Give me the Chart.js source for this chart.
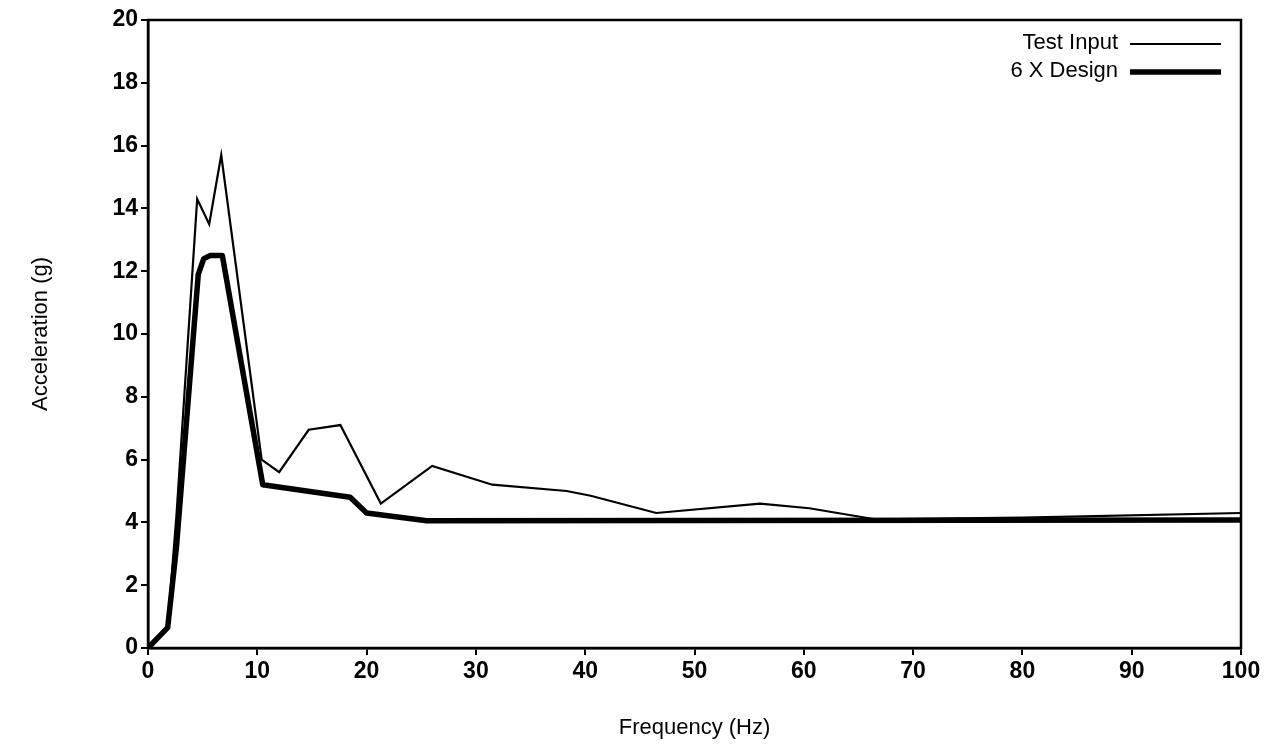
<!DOCTYPE html>
<html>
<head>
<meta charset="utf-8">
<script src="https://cdn.jsdelivr.net/npm/chart.js@4.4.1/dist/chart.umd.min.js"></script>
<style>
  html, body { margin: 0; padding: 0; background: #fff; }
  #wrap { width: 1271px; height: 747px; }
</style>
</head>
<body>
<div id="wrap"><canvas id="accelChart" width="1271" height="747"></canvas></div>
<script>
// values
var testFreq   = [0, 1.8, 2.6, 4.5, 5.6, 6.7, 10.4, 12.0, 14.7, 17.6, 21.3, 26.0, 31.5, 38.3, 40.5, 46.5, 56.0, 60.5, 66.5, 80.0, 100];
var testAccel  = [0, 0.7, 4.2, 14.3, 13.5, 15.7, 6.0, 5.6, 6.95, 7.1, 4.6, 5.8, 5.2, 5.0, 4.85, 4.3, 4.6, 4.45, 4.1, 4.15, 4.3];
var designFreq  = [0, 1.8, 2.6, 4.6, 5.1, 5.7, 6.8, 10.5, 18.5, 20.0, 25.5, 100];
var designAccel = [0, 0.65, 3.2, 11.9, 12.4, 12.5, 12.5, 5.2, 4.8, 4.3, 4.05, 4.08];
var xTicks = [0, 10, 20, 30, 40, 50, 60, 70, 80, 90, 100];
var yTicks = [0, 2, 4, 6, 8, 10, 12, 14, 16, 18, 20];

function toPoints(xs, ys) {
    return xs.map(function (x, i) { return { x: x, y: ys[i] }; });
}

// box around the plot + legend at top right, text first then the line sample
var frameAndLegend = {
    id: 'frameAndLegend',
    afterDraw: function (chart) {
        var ctx = chart.ctx;
        var a = chart.chartArea;
        ctx.save();
        ctx.strokeStyle = '#000';
        ctx.lineWidth = 2.5;
        ctx.strokeRect(a.left, a.top, a.right - a.left, a.bottom - a.top);

        ctx.font = '22px "Liberation Sans", Arial, sans-serif';
        ctx.fillStyle = '#000';
        ctx.textAlign = 'right';
        ctx.textBaseline = 'middle';
        chart.data.datasets.forEach(function (ds, i) {
            var y = 43 + i * 28;
            ctx.fillText(ds.label, 1118, y);
            ctx.lineWidth = ds.borderWidth;
            ctx.beginPath();
            ctx.moveTo(1130, y + 1);
            ctx.lineTo(1221, y + 1);
            ctx.stroke();
        });
        ctx.restore();
    }
};

var ctx = document.getElementById('accelChart').getContext('2d');
var chart = new Chart(ctx, {
    type: 'line',
    data: {
        datasets: [{
            label: 'Test Input',
            data: toPoints(testFreq, testAccel),
            borderColor: '#000',
            borderWidth: 2.2,
            pointRadius: 0,
            tension: 0
        }, {
            label: '6 X Design',
            data: toPoints(designFreq, designAccel),
            borderColor: '#000',
            borderWidth: 5.5,
            pointRadius: 0,
            tension: 0,
            borderJoinStyle: 'round'
        }]
    },
    options: {
        responsive: false,
        animation: false,
        layout: { padding: { top: 20, right: 30, left: 28, bottom: 0 } },
        plugins: {
            legend: { display: false },
            tooltip: { enabled: false }
        },
        scales: {
            x: {
                type: 'linear',
                min: 0,
                max: 100,
                afterBuildTicks: function (s) { s.ticks = xTicks.map(function (v) { return { value: v }; }); },
                afterFit: function (s) { s.height = 99; },
                grid: { drawOnChartArea: false, drawTicks: true, tickLength: 7, color: '#000', lineWidth: 2 },
                border: { color: '#000', width: 2.5 },
                ticks: {
                    color: '#000',
                    padding: 3,
                    maxRotation: 0,
                    font: { family: '"Liberation Sans", Arial, sans-serif', size: 23, weight: 'bold' }
                },
                title: {
                    display: true,
                    text: 'Frequency (Hz)',
                    color: '#000',
                    padding: { top: 10, bottom: 6 },
                    font: { family: '"Liberation Sans", Arial, sans-serif', size: 22 }
                }
            },
            y: {
                type: 'linear',
                min: 0,
                max: 20,
                afterBuildTicks: function (s) { s.ticks = yTicks.map(function (v) { return { value: v }; }); },
                afterFit: function (s) { s.width = 120; },
                grid: { drawOnChartArea: false, drawTicks: true, tickLength: 7, color: '#000', lineWidth: 2 },
                border: { color: '#000', width: 2.5 },
                ticks: {
                    color: '#000',
                    padding: 3,
                    font: { family: '"Liberation Sans", Arial, sans-serif', size: 23, weight: 'bold' }
                },
                title: {
                    display: true,
                    text: 'Acceleration (g)',
                    color: '#000',
                    padding: { top: 0, bottom: 10 },
                    font: { family: '"Liberation Sans", Arial, sans-serif', size: 22 }
                }
            }
        }
    },
    plugins: [frameAndLegend]
});
</script>
</body>
</html>
